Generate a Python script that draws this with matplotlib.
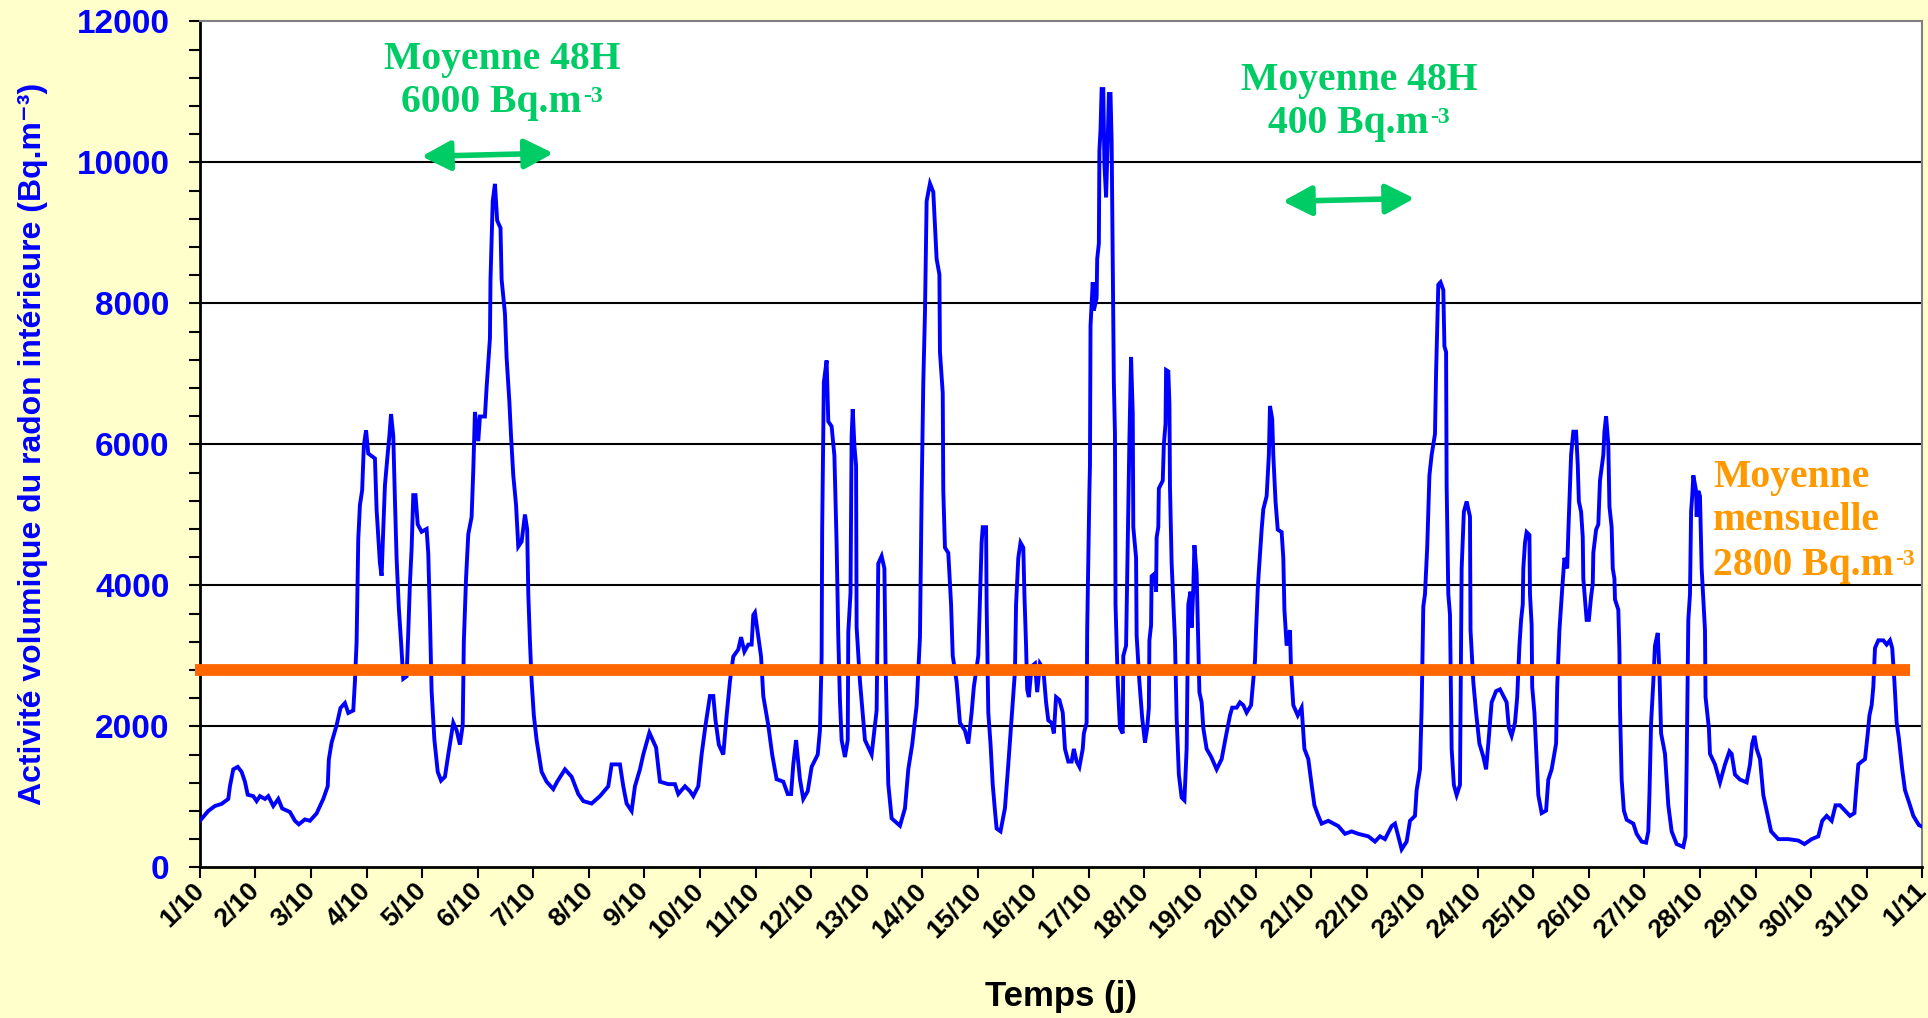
import matplotlib
matplotlib.use("Agg")
import matplotlib.pyplot as plt
from matplotlib.ticker import MultipleLocator
from matplotlib.transforms import ScaledTranslation

plt.rcParams["font.family"] = ["Liberation Sans", "DejaVu Sans"]

# time in days since 1/10 00:00, radon activity (Bq.m-3)
t_days = [
    0.00, 0.15, 0.27, 0.39, 0.51, 0.54, 0.60, 0.68, 0.75, 0.81, 0.86, 0.96, 1.02, 1.08, 1.17,
    1.23, 1.32, 1.41, 1.48, 1.62, 1.71, 1.78, 1.89, 1.98, 2.10, 2.22, 2.30, 2.32, 2.37, 2.46,
    2.53, 2.61, 2.67, 2.76, 2.79, 2.82, 2.85, 2.88, 2.92, 2.95, 2.99, 3.03, 3.15, 3.18, 3.24,
    3.27, 3.30, 3.33, 3.38, 3.41, 3.44, 3.48, 3.51, 3.54, 3.58, 3.62, 3.66, 3.72, 3.75, 3.78,
    3.81, 3.84, 3.88, 3.92, 3.99, 4.08, 4.11, 4.14, 4.17, 4.22, 4.28, 4.34, 4.41, 4.47, 4.56,
    4.62, 4.68, 4.73, 4.75, 4.79, 4.83, 4.89, 4.92, 4.95, 5.01, 5.04, 5.13, 5.16, 5.22, 5.23,
    5.27, 5.31, 5.35, 5.41, 5.43, 5.49, 5.52, 5.57, 5.60, 5.64, 5.69, 5.73, 5.79, 5.85, 5.89,
    5.91, 5.94, 5.97, 6.01, 6.06, 6.15, 6.24, 6.36, 6.43, 6.57, 6.69, 6.81, 6.90, 7.05, 7.20,
    7.35, 7.41, 7.56, 7.62, 7.68, 7.77, 7.83, 7.92, 7.98, 8.09, 8.21, 8.28, 8.43, 8.55, 8.61,
    8.73, 8.82, 8.88, 8.97, 9.03, 9.10, 9.18, 9.24, 9.28, 9.34, 9.42, 9.48, 9.54, 9.60, 9.69,
    9.74, 9.80, 9.87, 9.93, 9.96, 9.99, 10.04, 10.10, 10.14, 10.23, 10.30, 10.38, 10.50, 10.58,
    10.64, 10.68, 10.73, 10.80, 10.86, 10.94, 11.01, 11.12, 11.16, 11.19, 11.20, 11.23, 11.28,
    11.31, 11.37, 11.42, 11.46, 11.49, 11.52, 11.55, 11.61, 11.66, 11.67, 11.71, 11.73, 11.75,
    11.78, 11.81, 11.82, 11.88, 11.97, 12.09, 12.18, 12.21, 12.27, 12.32, 12.34, 12.39, 12.45,
    12.60, 12.69, 12.75, 12.82, 12.90, 12.96, 12.99, 13.02, 13.05, 13.08, 13.14, 13.20, 13.26,
    13.31, 13.32, 13.37, 13.38, 13.41, 13.47, 13.52, 13.55, 13.62, 13.68, 13.77, 13.83, 13.89,
    13.93, 14.01, 14.04, 14.07, 14.09, 14.15, 14.16, 14.19, 14.23, 14.27, 14.31, 14.34, 14.41,
    14.49, 14.55, 14.63, 14.67, 14.69, 14.73, 14.77, 14.82, 14.84, 14.87, 14.89, 14.92, 14.97,
    15.03, 15.07, 15.12, 15.18, 15.23, 15.27, 15.33, 15.37, 15.41, 15.47, 15.53, 15.57, 15.63,
    15.69, 15.73, 15.78, 15.83, 15.89, 15.91, 15.96, 15.97, 16.01, 16.02, 16.03, 16.07, 16.09,
    16.14, 16.15, 16.18, 16.19, 16.21, 16.23, 16.26, 16.28, 16.31, 16.34, 16.36, 16.39, 16.41,
    16.43, 16.45, 16.47, 16.48, 16.52, 16.56, 16.61, 16.62, 16.67, 16.69, 16.73, 16.76, 16.79,
    16.80, 16.85, 16.86, 16.91, 16.96, 17.01, 17.05, 17.08, 17.09, 17.12, 17.13, 17.19, 17.21,
    17.22, 17.25, 17.26, 17.33, 17.35, 17.38, 17.39, 17.43, 17.45, 17.46, 17.49, 17.55, 17.58,
    17.62, 17.67, 17.72, 17.76, 17.78, 17.79, 17.83, 17.85, 17.88, 17.90, 17.94, 17.97, 17.99,
    18.03, 18.06, 18.12, 18.20, 18.30, 18.39, 18.46, 18.54, 18.58, 18.66, 18.72, 18.78, 18.84,
    18.92, 18.94, 18.99, 19.01, 19.04, 19.06, 19.11, 19.14, 19.20, 19.24, 19.26, 19.30, 19.32,
    19.36, 19.40, 19.47, 19.50, 19.52, 19.56, 19.62, 19.64, 19.68, 19.76, 19.83, 19.88, 19.95,
    20.01, 20.06, 20.13, 20.19, 20.31, 20.49, 20.61, 20.73, 20.85, 21.03, 21.15, 21.24, 21.33,
    21.45, 21.51, 21.57, 21.63, 21.72, 21.78, 21.87, 21.90, 21.96, 21.99, 22.02, 22.05, 22.09,
    22.13, 22.17, 22.23, 22.25, 22.29, 22.33, 22.38, 22.40, 22.43, 22.44, 22.47, 22.50, 22.53,
    22.57, 22.62, 22.68, 22.71, 22.75, 22.80, 22.86, 22.87, 22.92, 22.97, 23.03, 23.10, 23.15,
    23.19, 23.25, 23.33, 23.40, 23.52, 23.56, 23.61, 23.67, 23.71, 23.75, 23.78, 23.81, 23.82,
    23.85, 23.88, 23.93, 23.94, 23.97, 23.98, 24.02, 24.05, 24.09, 24.15, 24.23, 24.27, 24.33,
    24.41, 24.43, 24.47, 24.52, 24.56, 24.61, 24.63, 24.68, 24.72, 24.77, 24.80, 24.82, 24.86,
    24.89, 24.90, 24.93, 24.96, 25.00, 25.04, 25.07, 25.08, 25.13, 25.17, 25.20, 25.26, 25.28,
    25.31, 25.35, 25.37, 25.41, 25.43, 25.46, 25.47, 25.53, 25.55, 25.56, 25.59, 25.63, 25.68,
    25.80, 25.86, 25.95, 26.03, 26.07, 26.09, 26.12, 26.16, 26.19, 26.24, 26.27, 26.30, 26.37,
    26.43, 26.49, 26.58, 26.70, 26.74, 26.76, 26.79, 26.82, 26.84, 26.86, 26.88, 26.93, 26.94,
    26.97, 27.00, 27.03, 27.09, 27.10, 27.16, 27.18, 27.27, 27.36, 27.45, 27.53, 27.57, 27.63,
    27.72, 27.84, 27.90, 27.94, 27.98, 28.02, 28.08, 28.14, 28.20, 28.28, 28.41, 28.59, 28.77,
    28.88, 29.01, 29.13, 29.20, 29.28, 29.37, 29.44, 29.52, 29.61, 29.70, 29.78, 29.80, 29.85,
    29.91, 29.97, 30.02, 30.05, 30.09, 30.12, 30.15, 30.21, 30.30, 30.36, 30.42, 30.46, 30.50,
    30.54, 30.58, 30.64, 30.69, 30.78, 30.84, 30.94, 30.98,
]
radon = [
    660, 800, 870, 900, 970, 1150, 1390, 1425, 1355, 1215, 1030, 1010, 940, 1010, 970,
    1010, 870, 970, 835, 785, 660, 610, 680, 660, 765, 970, 1150, 1530, 1770, 2015,
    2260, 2330, 2190, 2225, 2640, 3200, 4660, 5140, 5350, 5980, 6200, 5870, 5800, 5070, 4310,
    4135, 4800, 5420, 5870, 6120, 6430, 6120, 5210, 4380, 3680, 3200, 2675, 2710, 3340, 4030,
    4520, 5280, 5280, 4865, 4760, 4800, 4450, 3545, 2500, 1810, 1355, 1230, 1285, 1600, 2050,
    1945, 1740, 2015, 3200, 4100, 4725, 4970, 5630, 6460, 6045, 6395, 6395, 6810, 7505, 8340,
    9450, 9695, 9175, 9070, 8340, 7855, 7230, 6600, 6115, 5560, 5140, 4550, 4620, 5005, 4795,
    3890, 3200, 2640, 2155, 1805, 1355, 1215, 1110, 1215, 1390, 1285, 1040, 940, 905, 1010,
    1150, 1460, 1460, 1150, 905, 800, 1150, 1390, 1600, 1910, 1700, 1215, 1180, 1180, 1040,
    1150, 1080, 1010, 1150, 1600, 2015, 2430, 2430, 2085, 1740, 1600, 2155, 2640, 2990, 3090,
    3265, 3060, 3160, 3160, 3580, 3615, 3335, 2990, 2430, 2015, 1600, 1250, 1215, 1040,
    1040, 1460, 1805, 1250, 970, 1080, 1425, 1600, 1945, 2990, 4795, 6880, 7190,
    6325, 6255, 5840, 4585, 3265, 2365, 1805, 1565, 1805, 3335, 3890, 6115, 6500,
    5980, 5700, 3405, 2640, 1805, 1600, 2225, 4310, 4415, 4240, 2920, 1180, 695,
    590, 835, 1390, 1740, 2295, 3265, 5280, 6880, 7855, 9450, 9700, 9580, 8630,
    8410, 7310, 6730, 5340, 4535, 4460, 3730, 3000, 2630, 2050, 1940, 1755, 2195,
    2560, 3000, 3800, 4605, 4825, 4825, 3730, 2195, 1755, 1170, 805, 550, 510,
    840, 1460, 2340, 2780, 3730, 4390, 4605, 4535, 3875, 3145, 2525, 2415, 2850,
    2890, 2485, 2890, 2815, 2340, 2085, 2050, 1900, 2415, 2375, 2195, 1680, 1500,
    1500, 1680, 1500, 1425, 1680, 1900, 2050, 3365, 5340, 5700, 7680, 8300, 7900,
    8080, 8630, 8850, 10165, 10460, 11040, 11040, 9980, 9505, 10310, 10970, 10970, 10310,
    8630, 6875, 6145, 3730, 2630, 1975, 1900, 3000, 3145, 4095, 6070, 7240, 6435,
    4825, 4390, 3290, 2630, 2120, 1770, 1975, 2265, 3220, 3435, 4130, 4170, 3910,
    4680, 4825, 5375, 5485, 6000, 6290, 7055, 7035, 6580, 5410, 4315, 3220, 2120,
    1315, 990, 950, 1680, 3000, 3730, 3910, 3400, 3950, 4570, 4170, 3145, 2485,
    2340, 1975, 1680, 1570, 1390, 1535, 1830, 2155, 2265, 2265, 2340, 2300, 2195,
    2300, 2485, 2925, 3365, 3950, 4205, 4790, 5080, 5265, 5850, 6545, 6360, 5850,
    5190, 4790, 4755, 4390, 3655, 3145, 3365, 2780, 2300, 2155, 2265, 1680, 1535,
    1170, 880, 730, 620, 660, 585, 475, 510, 475, 440, 365, 440, 400,
    585, 620, 440, 255, 365, 660, 730, 1095, 1390, 2265, 3700, 3875, 4535,
    5560, 5850, 6145, 7020, 8265, 8300, 8190, 7390, 7310, 5410, 3875, 3585, 1680,
    1170, 1025, 1170, 4240, 5045, 5190, 4975, 3365, 2630, 2195, 1755, 1570, 1390,
    1755, 2340, 2500, 2525, 2340, 1975, 1865, 2050, 2415, 3145, 3510, 3730, 4240,
    4605, 4755, 4715, 3875, 3435, 2560, 2195, 1680, 1025, 770, 805, 1245, 1390,
    1755, 2560, 3365, 3950, 4390, 4240, 4755, 5850, 6180, 6180, 5705, 5190, 5045,
    4680, 4095, 3800, 3510, 3510, 3840, 4020, 4460, 4790, 4865, 5485, 5850, 6180,
    6400, 6000, 5120, 4825, 4240, 4095, 3800, 3655, 3070, 2265, 1245, 805, 675,
    620, 475, 365, 350, 510, 1025, 2050, 2630, 3145, 3325, 2780, 1900, 1610,
    880, 510, 330, 290, 440, 1460, 3510, 3875, 5045, 5265, 5560, 5340, 4975,
    5340, 5265, 4240, 3365, 2415, 1975, 1610, 1460, 1205, 1460, 1645, 1610, 1315,
    1245, 1205, 1460, 1755, 1865, 1680, 1535, 1025, 805, 510, 400, 400, 380,
    330, 400, 440, 660, 730, 660, 880, 880, 805, 730, 770, 990, 1460,
    1500, 1535, 1900, 2155, 2300, 2560, 3110, 3220, 3220, 3160, 3220, 3110, 2630,
    2050, 1830, 1390, 1095, 880, 730, 600, 585,
]

day_labels = [f"{d}/10" for d in range(1, 32)] + ["1/11"]
grid_levels = [2000, 4000, 6000, 8000, 10000]
monthly_mean = 2800
mean_48h = [6000, 400]

BLUE = "#0000FF"
GREEN = "#00CC66"
ORANGE_LINE = "#FF6600"
ORANGE_TEXT = "#FF9900"
SERIF = ["Liberation Serif", "DejaVu Serif"]

fig = plt.figure(figsize=(19.28, 10.18), dpi=100, facecolor="#FFFFCC")
ax = fig.add_axes([0.1037, 0.148, 0.8933, 0.831])
ax.set_facecolor("white")

for g in grid_levels:
    ax.axhline(g, color="black", lw=1.5, zorder=1)

ax.plot(t_days, radon, color=BLUE, lw=2.8, zorder=3, solid_joinstyle="miter")
ax.plot([-0.09, 30.78], [monthly_mean, monthly_mean], color=ORANGE_LINE, lw=8.5,
        solid_capstyle="butt", clip_on=False, zorder=4)

ax.set_xlim(0, 31)
ax.set_ylim(0, 12000)
ax.set_xticks(range(len(day_labels)))
ax.set_xticklabels(day_labels, rotation=45, ha="right", va="center",
                   rotation_mode="anchor", fontsize=19, fontweight="bold")
# Excel-like placement of rotated labels: longer labels sit further left/down
for lab in ax.get_xticklabels():
    extra = len(lab.get_text()) - 4
    dx, dy = -14 - 16 * extra, -8 * extra
    lab.set_transform(lab.get_transform()
                      + ScaledTranslation(dx / 100, dy / 100, fig.dpi_scale_trans))
ax.set_yticks(range(0, 12001, 2000))
ax.yaxis.set_minor_locator(MultipleLocator(400))
for lab in ax.get_yticklabels():
    lab.set_fontweight("bold")
ax.tick_params(axis="y", which="both", direction="out", length=8, width=1.5,
               labelsize=24, labelcolor=BLUE, pad=14)
ax.tick_params(axis="x", direction="out", length=8, width=1.5, pad=6)

for side in ("left", "bottom"):
    ax.spines[side].set_linewidth(2)
    ax.spines[side].set_color("black")
for side in ("top", "right"):
    ax.spines[side].set_linewidth(1.5)
    ax.spines[side].set_color("#808080")

ax.set_ylabel("Activité volumique du radon intérieure (Bq.m⁻³)", color=BLUE,
              fontsize=23, fontweight="bold")
ax.yaxis.set_label_coords(-0.088, 0.5)
ax.set_xlabel("Temps (j)", fontsize=25, fontweight="bold")
ax.xaxis.set_label_coords(0.5, -0.133)


def unit_text(x, y, value, color, ha):
    t = ax.text(x, y, f"{value} Bq.m", color=color, fontsize=28.5, fontweight="bold",
                family=SERIF, ha=ha, va="baseline", zorder=5)
    ax.annotate("-3", xy=(1, 0.38), xycoords=t, xytext=(1, 0), textcoords="offset points",
                color=color, fontsize=17, fontweight="bold", family=SERIF,
                ha="left", va="bottom", zorder=5)


# 48H mean annotations
for x_c, x_u, y1, y2, val, a0, a1 in [
    (5.44, 5.25, 11320, 10710, mean_48h[0], (3.99, 10085), (6.36, 10130)),
    (20.86, 20.67, 11020, 10410, mean_48h[1], (19.49, 9447), (21.86, 9489)),
]:
    ax.text(x_c, y1, "Moyenne 48H", color=GREEN, fontsize=28.5, fontweight="bold",
            family=SERIF, ha="center", va="baseline")
    unit_text(x_u, y2, val, GREEN, "center")
    ax.annotate("", xy=a1, xytext=a0,
                arrowprops=dict(arrowstyle="<|-|>,head_length=1.25,head_width=0.65",
                                color=GREEN, lw=4, shrinkA=0, shrinkB=0,
                                mutation_scale=14))

for y, s in [(5390, "Moyenne"), (4780, "mensuelle")]:
    ax.text(27.24, y, s, color=ORANGE_TEXT, fontsize=28.5, fontweight="bold",
            family=SERIF, ha="left", va="baseline", zorder=5)
unit_text(27.24, 4150, monthly_mean, ORANGE_TEXT, "left")

fig.savefig("out.png", dpi=100, facecolor=fig.get_facecolor())
